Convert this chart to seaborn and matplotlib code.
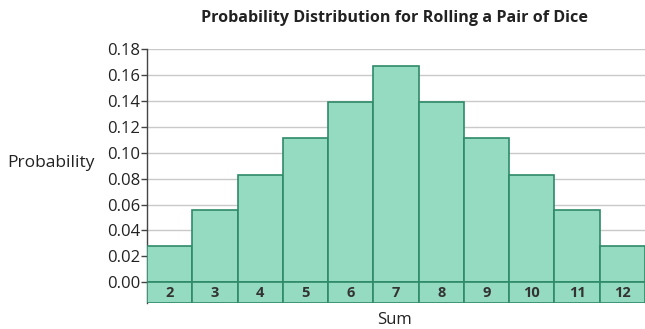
import matplotlib
matplotlib.use('Agg')
import seaborn as sns
import matplotlib.pyplot as plt

sums = ['2', '3', '4', '5', '6', '7', '8', '9', '10', '11', '12']
probs = [0.028, 0.056, 0.083, 0.111, 0.139, 0.167, 0.139, 0.111, 0.083, 0.056, 0.028]
yticks = [0.00, 0.02, 0.04, 0.06, 0.08, 0.10, 0.12, 0.14, 0.16, 0.18]

fill = '#95dbc1'
edge = '#2f8a69'
band = 0.016

if __name__ == '__main__':
    sns.set_style('white')
    plt.rcParams['font.family'] = ['Open Sans', 'DejaVu Sans']
    fig = plt.figure(figsize=(6.45, 3.29), dpi=100)
    ax = fig.add_axes([0.228, 0.079, 0.772, 0.772])

    sns.barplot(x=sums, y=probs, width=1, color=fill, edgecolor=edge,
                linewidth=1.2, saturation=1, ax=ax, zorder=3)
    # label cells below the zero line
    sns.barplot(x=sums, y=[-band] * len(sums), width=1, color=fill,
                edgecolor=edge, linewidth=1.2, saturation=1, ax=ax, zorder=3)
    for i, s in enumerate(sums):
        ax.text(i, -band / 2, s, ha='center', va='center', fontsize=10.5,
                fontweight='bold', color='#333333', zorder=4)

    ax.set_xlim(-0.5, 10.5)
    ax.set_ylim(-band, 0.18)
    ax.set_yticks(yticks)
    ax.set_yticklabels([f'{v:.2f}' for v in yticks], fontsize=12, color='#222222')
    ax.set_xticks([])
    ax.yaxis.grid(True, color='#c9c9c9', linewidth=1, zorder=0)
    ax.set_axisbelow(True)
    ax.tick_params(axis='y', left=True, length=4, width=1, color='#444444', pad=1)
    for side in ['top', 'right', 'bottom']:
        ax.spines[side].set_visible(False)
    ax.spines['left'].set_color('#444444')
    ax.spines['left'].set_linewidth(1)

    ax.set_ylabel('')
    ax.set_xlabel('')
    fig.text(0.012, 0.505, 'Probability', fontsize=12.5, color='#222222',
             ha='left', va='center')
    fig.text(0.612, 0.027, 'Sum', fontsize=12, color='#222222',
             ha='center', va='center')
    fig.text(0.612, 0.945, 'Probability Distribution for Rolling a Pair of Dice',
             fontsize=11.6, fontweight='bold', color='#222222',
             ha='center', va='center')

    plt.savefig('out.png', dpi=100)
